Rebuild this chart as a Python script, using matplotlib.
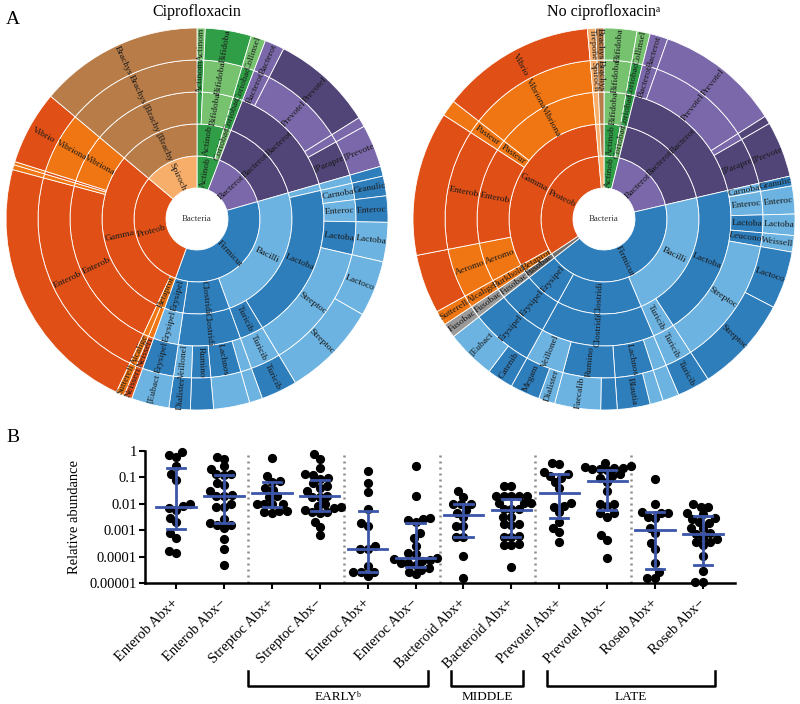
import numpy as np
import matplotlib
matplotlib.use("Agg")
import matplotlib.pyplot as plt
import matplotlib.transforms as mtransforms
from matplotlib.patches import Wedge
from matplotlib.lines import Line2D

plt.rcParams["font.family"] = ["Liberation Serif", "DejaVu Serif"]

# ---------------- panel A: sunbursts ----------------
# leaf path = phylum|class|order|family|genus, arc size (clockwise from 12 o'clock),
# one colour code per ring
cipro_paths = [
    "Actinob|Actinob|Actinom|Actinom|Actinom",
    "Actinob|Actinob|Bifidoba|Bifidoba|Bifidoba",
    "Actinob|Coriobac|Coriobac|Coriobac|Collinsel",
    "Bacterot|Bacterot|Bacterot|Bacterot|Bacterot",
    "Bacterot|Bacterot|Bacterot|Prevotel|Prevotel",
    "Bacterot|Bacterot|Bacterot||",
    "Bacterot|Bacterot|Bacterot|[Parapre|[Prevote",
    "Firmicut|Bacilli|||",
    "Firmicut|Bacilli|Lactoba|Carnoba|Granulic",
    "Firmicut|Bacilli|Lactoba|Enteroc|Enteroc",
    "Firmicut|Bacilli|Lactoba|Lactoba|Lactoba",
    "Firmicut|Bacilli|Lactoba|Streptoc|Lactoco",
    "Firmicut|Bacilli|Lactoba|Streptoc|Streptoc",
    "Firmicut|Bacilli|Turicib|Turicib|Turicib",
    "Firmicut|Clostridi|Clostridi||",
    "Firmicut|Clostridi|Clostridi|Lachnos|",
    "Firmicut|Clostridi|Clostridi|Rumino|",
    "Firmicut|Clostridi|Clostridi|Veillonel|Dialister",
    "Firmicut|Erysipel|Erysipel|Erysipel|[Eubact",
    "Proteob|Betaprot|Neisseri|Neisseri|Neisseri",
    "Proteob|Betaprot|Burkhold|Alcalige|Sutterell",
    "Proteob|Gamma|Enterob|Enterob|",
    "Proteob|Gamma|||",
    "Proteob|Gamma|Aeromo||",
    "Proteob|Gamma|Vibriona|Vibriona|Vibrio",
    "Spiroch|[Brachy|[Brachy|Brachys|Brachys",
]
cipro_sizes = [2.5, 14, 4.5, 6, 31, 3, 13, 3, 6, 8, 12, 17, 29, 11,
               4, 11, 7, 6.5, 11.5, 2.5, 2.5, 80, 1.5, 1, 22.5, 50]
cipro_codes = ["GGGGg", "GGggG", "GgGGg", "PDDPP", "PDDPD", "PDDPP", "PDDDP",
               "BLLLB", "BLBLB", "BLBLB", "BLBBL", "BLBLL", "BLBLL", "BLBLB",
               "BBBLL", "BBBBL", "BBBBB", "BBBLB", "BBLBL",
               "ROORR", "ROOOO", "RRRRR", "RROOO", "RRRRO", "RROOR", "SWWWW"]

nocipro_paths = [
    "Actinob|Actinob|Bifidoba|Bifidoba|Bifidoba",
    "Actinob|Coriobac|Coriobac|Coriobac|Collinsel",
    "Bacterot|Bacterot|Bacterot|Bacterot|Bacterot",
    "Bacterot|Bacterot|Bacterot|Prevotel|Prevotel",
    "Bacterot|Bacterot|Bacterot||",
    "Bacterot|Bacterot|Bacterot|[Parapre|[Prevote",
    "Firmicut|Bacilli|Lactoba|Carnoba|Granulic",
    "Firmicut|Bacilli|Lactoba|Enteroc|Enteroc",
    "Firmicut|Bacilli|Lactoba|Lactoba|Lactoba",
    "Firmicut|Bacilli|Lactoba|Leucono|Weissell",
    "Firmicut|Bacilli|Lactoba|Streptoc|Lactoco",
    "Firmicut|Bacilli|Lactoba|Streptoc|Streptoc",
    "Firmicut|Bacilli|Turicib|Turicib|Turicib",
    "Firmicut|Clostridi|Clostridi||",
    "Firmicut|Clostridi|Clostridi|Lachnos|",
    "Firmicut|Clostridi|Clostridi|Lachnos|Blautia",
    "Firmicut|Clostridi|Clostridi|Rumino|",
    "Firmicut|Clostridi|Clostridi|Rumino|Faecalib",
    "Firmicut|Clostridi|Clostridi|Veillonel|Dialister",
    "Firmicut|Clostridi|Clostridi|Veillonel|Megam",
    "Firmicut|Erysipel|Erysipel|Erysipel|Catenib",
    "Firmicut|Erysipel|Erysipel|Erysipel|[Eubact",
    "Fusobac|Fusobac|Fusobac|Fusobac|Fusobac",
    "Proteob|Betaprot|Burkhold|Alcalige|Sutterell",
    "Proteob|Gamma|Aeromo|Aeromo|",
    "Proteob|Gamma|Enterob|Enterob|",
    "Proteob|Gamma|Pasteur|Pasteur|",
    "Proteob|Gamma|Vibriona|Vibriona|Vibrio",
    "Spiroch|Spiroch|Spiroch|Spiroch|Trepone",
    "Spiroch|[Brachy|[Brachy|Brachys|Brachys",
]
nocipro_sizes = [10, 4, 5.5, 38, 2.5, 17, 3, 8.5, 6.5, 5, 17.5, 29.5, 10,
                 5, 4, 10, 5, 14, 5, 9, 8, 15, 4.5, 4.5, 18, 44, 5, 47, 2.5, 2.5]
nocipro_codes = ["GGggg", "GgGGg", "PDDPP", "PDDPP", "PDDPD", "PDDDD",
                 "BLBLB", "BLBLL", "BLBBL", "BLBBL", "BLBLB", "BLBLB", "BLLLB",
                 "BBBLL", "BBBBL", "BBBBB", "BBBBB", "BBBBL", "BBBLL", "BBBLB",
                 "BBBBB", "BBBBL", "KKkkk", "ROOOO", "RROOR", "RRRRR", "RROOO",
                 "RROOR", "SSSSS", "SWWWW"]

palette = {
    "R": "#e05016", "O": "#ef7612", "W": "#b87c48", "S": "#f8ae6b",
    "G": "#2f9e46", "g": "#76c26f", "D": "#514578", "P": "#7b68aa",
    "B": "#2f7ebc", "L": "#6cb3e1", "K": "#6e6e6e", "k": "#9a9a9a",
}
ring_edges = [31, 63, 95, 127, 159, 191]

# ---------------- panel B: relative abundance ----------------
tick_labels = ["Enterob Abx+", "Enterob Abx\u2212", "Streptoc Abx+", "Streptoc Abx\u2212",
               "Enteroc Abx+", "Enteroc Abx\u2212", "Bacteroid Abx+", "Bacteroid Abx+",
               "Prevotel Abx+", "Prevotel Abx\u2212", "Roseb Abx+", "Roseb Abx\u2212"]
points = [
    [0.92, 0.73, 0.59, 0.26, 0.13, 0.078, 0.0095, 0.0082, 0.0071, 0.0058, 0.0028,
     0.0020, 0.00076, 0.0005, 0.00016, 0.00014],
    [0.59, 0.51, 0.26, 0.20, 0.14, 0.13, 0.12, 0.059, 0.051, 0.030, 0.021, 0.020,
     0.019, 0.0098, 0.0078, 0.0073, 0.0026, 0.0019, 0.0016, 0.0016, 0.0012,
     0.00046, 0.00019, 0.000049],
    [0.56, 0.11, 0.070, 0.068, 0.039, 0.033, 0.019, 0.018, 0.0099, 0.0098, 0.0097,
     0.0096, 0.0055, 0.0054, 0.0047, 0.0046],
    [0.75, 0.51, 0.22, 0.13, 0.12, 0.091, 0.09, 0.059, 0.047, 0.041, 0.031, 0.0195,
     0.0185, 0.018, 0.0098, 0.0082, 0.0073, 0.0072, 0.0058, 0.005, 0.0049, 0.0043,
     0.0021, 0.0013, 0.00066],
    [0.18, 0.062, 0.0285, 0.0062, 0.0018, 0.00145, 0.00026, 0.0002, 0.0002,
     0.000046, 0.000026, 0.000025, 0.000025, 0.000018],
    [0.27, 0.019, 0.0028, 0.0027, 0.0024, 0.0021, 0.00081, 0.0005, 0.00026, 0.00014,
     0.00013, 0.000085, 0.00008, 0.000076, 0.00007, 0.000057, 0.000057, 0.00005,
     0.000037, 0.000032, 0.000027, 0.000021],
    [0.030, 0.0185, 0.0098, 0.0097, 0.0096, 0.0058, 0.0046, 0.0031, 0.00145, 0.0014,
     0.00057, 0.00056, 0.000107, 0.000016],
    [0.048, 0.047, 0.0198, 0.0195, 0.0192, 0.02, 0.019, 0.0104, 0.0105, 0.0103,
     0.0062, 0.0061, 0.0063, 0.0031, 0.0032, 0.0016, 0.0017, 0.00165, 0.00057,
     0.00058, 0.00056, 0.00028, 0.00029, 0.00027, 0.000042],
    [0.35, 0.33, 0.16, 0.14, 0.11, 0.099, 0.068, 0.039, 0.0104, 0.0082, 0.0078,
     0.0049, 0.002, 0.00125, 0.00089, 0.00037],
    [0.35, 0.27, 0.25, 0.235, 0.23, 0.216, 0.21, 0.187, 0.132, 0.111, 0.091, 0.068,
     0.031, 0.0098, 0.0097, 0.0082, 0.0046, 0.0045, 0.0033, 0.00066, 0.00043,
     0.000087],
    [0.088, 0.0098, 0.005, 0.0044, 0.0043, 0.0033, 0.0028, 0.00125, 0.00077, 0.00034,
     0.00019, 0.000057, 0.000026, 0.000015, 0.000015],
    [0.0098, 0.0078, 0.0077, 0.0046, 0.0041, 0.0028, 0.0027, 0.0021, 0.0018, 0.0012,
     0.0012, 0.00077, 0.00072, 0.00057, 0.00046, 0.00037, 0.00036, 0.00028,
     0.000107, 0.000029, 0.0000106, 0.0000106],
]
medians = [0.0075, 0.0195, 0.025, 0.0195, 0.0002, 0.000087, 0.0038, 0.0058, 0.025,
           0.070, 0.00103, 0.00072]
upper = [0.23, 0.12, 0.066, 0.083, 0.0052, 0.0019, 0.0098, 0.0147, 0.132, 0.19,
         0.005, 0.0035]
lower = [0.00115, 0.0018, 0.0073, 0.0052, 0.000025, 0.00004, 0.00057, 0.00057,
         0.0028, 0.0058, 0.000034, 0.000049]
phases = ["EARLY\u1d47", "MIDDLE", "LATE"]
phase_spans = [(1.5, 5.25), (5.75, 7.25), (7.75, 11.25)]

W, H = 800, 704
fig = plt.figure(figsize=(W / 100, H / 100), dpi=100)


def draw_sunburst(ax, paths, sizes, codes):
    ax.set_xlim(-195, 195)
    ax.set_ylim(-195, 195)
    ax.set_aspect("equal")
    ax.axis("off")
    sizes = np.asarray(sizes, float)
    ends = np.cumsum(sizes) / sizes.sum() * 360
    starts = np.concatenate([[0], ends[:-1]])
    levels = [p.split("|") for p in paths]
    for ring in range(5):
        r_in, r_out = ring_edges[ring], ring_edges[ring + 1]
        rm = (r_in + r_out) / 2
        i = 0
        while i < len(levels):
            key = levels[i][:ring + 1]
            j = i
            while j + 1 < len(levels) and levels[j + 1][:ring + 1] == key:
                j += 1
            a0, a1 = starts[i], ends[j]
            ax.add_patch(Wedge((0, 0), r_out, 90 - a1, 90 - a0, width=r_out - r_in,
                               facecolor=palette[codes[i][ring]],
                               edgecolor="white", linewidth=0.6))
            name = key[-1]
            if name and np.radians(a1 - a0) * rm > 5.5:
                phi = 90 - (a0 + a1) / 2
                rot = phi if np.cos(np.radians(phi)) >= -1e-9 else phi + 180
                ax.text(rm * np.cos(np.radians(phi)), rm * np.sin(np.radians(phi)),
                        name, rotation=rot, rotation_mode="anchor", ha="center",
                        va="center", fontsize=6.8, color="#1a1a1a")
            i = j + 1
    ax.text(0, 0, "Bacteria", ha="center", va="center", fontsize=6.4, color="#333333")


ax_l = fig.add_axes([2 / W, 1 - 414 / H, 390 / W, 390 / H])
draw_sunburst(ax_l, cipro_paths, cipro_sizes, cipro_codes)
ax_r = fig.add_axes([409 / W, 1 - 414 / H, 390 / W, 390 / H])
draw_sunburst(ax_r, nocipro_paths, nocipro_sizes, nocipro_codes)

fig.text(197 / W, 1 - 12 / H, "Ciprofloxacin", ha="center", va="center", fontsize=11.5)
fig.text(604 / W, 1 - 12 / H, "No ciprofloxacin\u1d43", ha="center", va="center",
         fontsize=11.5)
fig.text(6 / W, 1 - 20 / H, "A", ha="left", va="center", fontsize=14)
fig.text(6 / W, 1 - 438 / H, "B", ha="left", va="center", fontsize=14)

# ---------------- panel B ----------------
axb = fig.add_axes([145 / W, 1 - 583 / H, 590 / W, 132 / H])
x_lo, x_hi = -0.65, 11.67
axb.set_yscale("log")
axb.set_ylim(1e-5, 1)
axb.set_xlim(x_lo, x_hi)

px_x = 590 / (x_hi - x_lo)
px_dec = 132 / 5.0
diam = 7.6


def swarm_offsets(ypx, d):
    xs = np.zeros(len(ypx))
    placed = []
    for i in np.argsort(ypx):
        y = ypx[i]
        cands = [0.0]
        for px, py in placed:
            dy = abs(py - y)
            if dy < d:
                dx = np.sqrt(d * d - dy * dy)
                cands += [px - dx, px + dx]
        cands.sort(key=abs)
        for c in cands:
            if all((c - px) ** 2 + (y - py) ** 2 >= d * d - 1e-6 for px, py in placed):
                xs[i] = c
                break
        placed.append((xs[i], y))
    return xs


blue = "#3b55a8"
for k, vals in enumerate(points):
    vals = np.asarray(vals)
    ypx = (np.log10(vals) + 5) * px_dec
    xoff = swarm_offsets(ypx, diam) / px_x
    axb.scatter(k + xoff, vals, s=44, color="black", zorder=3, clip_on=False,
                linewidths=0)
    axb.plot([k - 0.41, k + 0.41], [medians[k]] * 2, color=blue, lw=2, zorder=4)
    axb.plot([k, k], [lower[k], upper[k]], color=blue, lw=2, zorder=4)
    for v in (lower[k], upper[k]):
        axb.plot([k - 0.19, k + 0.19], [v, v], color=blue, lw=2, zorder=4)

for xv in (1.5, 3.5, 5.5, 7.5, 9.5):
    axb.axvline(xv, color="#8c8c8c", lw=1.8, linestyle=(0, (0.8, 1.6)), zorder=1)

for side in ("top", "right"):
    axb.spines[side].set_visible(False)
for side in ("left", "bottom"):
    axb.spines[side].set_linewidth(1.8)

yt = [1e-5, 1e-4, 1e-3, 1e-2, 1e-1, 1]
axb.set_yticks(yt)
axb.set_yticklabels(["0.00001", "0.0001", "0.001", "0.01", "0.1", "1"], fontsize=10.5)
axb.yaxis.set_minor_locator(matplotlib.ticker.NullLocator())
axb.tick_params(axis="y", length=4, width=1.5, pad=2)
axb.set_xticks(range(12))
axb.set_xticklabels(tick_labels, rotation=45, ha="right", va="center",
                    rotation_mode="anchor", fontsize=10.5)
axb.tick_params(axis="x", length=4, width=1.5, pad=9)
axb.set_ylabel("Relative abundance", fontsize=10.5, labelpad=6)

# phase brackets below the labels
trans = mtransforms.blended_transform_factory(axb.transData, fig.transFigure)
y_top, y_bot, y_txt = 1 - 671 / H, 1 - 686 / H, 1 - 697 / H
for name, (x0, x1) in zip(phases, phase_spans):
    fig.add_artist(Line2D([x0, x0, x1, x1], [y_top, y_bot, y_bot, y_top],
                          transform=trans, color="black", lw=1.8))
    fig.text((x0 + x1) / 2, y_txt, name, transform=trans, ha="center", va="center",
             fontsize=9.5)

fig.savefig("out.png", dpi=100, facecolor="white")
